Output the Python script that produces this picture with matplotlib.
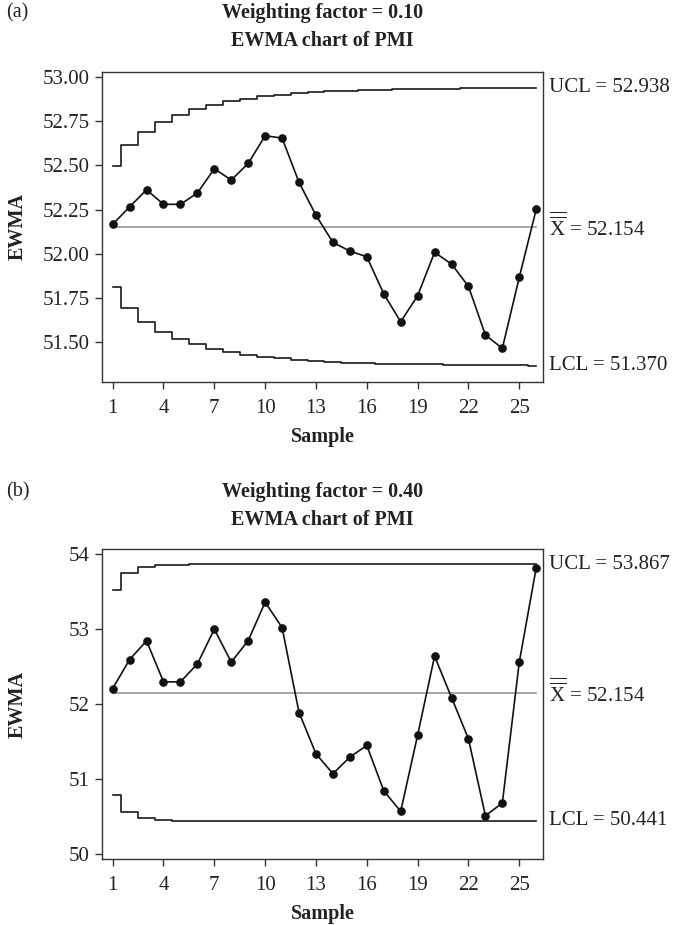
import matplotlib
matplotlib.use("Agg")
import matplotlib.pyplot as plt
import numpy as np

plt.rcParams['font.family'] = ['Liberation Serif', 'DejaVu Serif']
plt.rcParams['mathtext.fontset'] = 'custom'
plt.rcParams['mathtext.rm'] = 'Liberation Serif'
plt.rcParams['mathtext.it'] = 'Liberation Serif:italic'
plt.rcParams['mathtext.bf'] = 'Liberation Serif:bold'

samples = list(range(1, 27))
xticks = [1, 4, 7, 10, 13, 16, 19, 22, 25]

# Panel (a): weighting factor 0.10
ewma_a = [52.167, 52.266, 52.362, 52.280, 52.280, 52.344, 52.481, 52.417, 52.511, 52.667,
          52.654, 52.404, 52.218, 52.065, 52.016, 51.984, 51.775, 51.617, 51.764, 52.009,
          51.943, 51.817, 51.542, 51.467, 51.868, 52.252]
ucl_a = [52.496, 52.614, 52.691, 52.746, 52.787, 52.818, 52.843, 52.862, 52.877, 52.889,
         52.898, 52.906, 52.912, 52.917, 52.921, 52.924, 52.927, 52.929, 52.931, 52.932,
         52.933, 52.934, 52.936, 52.937, 52.937, 52.938]
lcl_a = [51.812, 51.694, 51.617, 51.562, 51.521, 51.490, 51.466, 51.446, 51.431, 51.419,
         51.410, 51.402, 51.396, 51.391, 51.387, 51.384, 51.381, 51.379, 51.377, 51.376,
         51.375, 51.374, 51.372, 51.371, 51.371, 51.370]
center_a = 52.154
yticks_a = [51.50, 51.75, 52.00, 52.25, 52.50, 52.75, 53.00]

# Panel (b): weighting factor 0.40
ewma_b = [52.208, 52.595, 52.844, 52.297, 52.297, 52.537, 53.000, 52.560, 52.848, 53.360,
          53.021, 51.888, 51.337, 51.071, 51.293, 51.448, 50.844, 50.568, 51.587, 52.640,
          52.088, 51.537, 50.510, 50.680, 52.560, 53.820]
ucl_b = [53.524, 53.752, 53.827, 53.853, 53.862, 53.865, 53.866] + [53.867] * 19
lcl_b = [50.784, 50.556, 50.481, 50.455, 50.446, 50.443, 50.442] + [50.441] * 19
center_b = 52.154
yticks_b = [50, 51, 52, 53, 54]

fig = plt.figure(figsize=(6.76, 9.25), dpi=100)
W, H = 676, 925


def make_axes(top_px, bottom_px):
    left_px, right_px = 102, 543
    return fig.add_axes([left_px / W, 1 - bottom_px / H,
                         (right_px - left_px) / W, (bottom_px - top_px) / H])


def draw_panel(ax, ewma, ucl, lcl, center, yticks, ylim, fmt, ucl_txt, lcl_txt,
               tag, wtxt, title_top_px):
    ax.step(samples, ucl, where='mid', color='#1a1a1a', lw=1.2)
    ax.step(samples, lcl, where='mid', color='#1a1a1a', lw=1.2)
    ax.plot([samples[0], samples[-1]], [center, center], color='#8c8c8c', lw=1.1)
    ax.plot(samples, ewma, color='#111111', lw=1.2, marker='o', ms=5.2,
            markerfacecolor='#111111', markeredgecolor='#111111')
    ax.set_xlim(0.37, 26.4)
    ax.set_ylim(*ylim)
    ax.set_xticks(xticks)
    ax.set_yticks(yticks)
    ax.set_yticklabels([fmt.format(v) for v in yticks])
    for s in ax.spines.values():
        s.set_color('#333333')
        s.set_linewidth(1.0)
    ax.tick_params(direction='out', length=5, width=1.0, color='#333333',
                   labelsize=15, pad=4, labelcolor='#222222')
    ax.tick_params(axis='x', pad=7)
    ax.set_xlabel('Sample', fontsize=14.5, fontweight='bold', labelpad=7, color='#222222')
    ax.set_ylabel('EWMA', fontsize=14.5, fontweight='bold', color='#222222')
    ax.yaxis.set_label_coords(-0.168, 0.5)
    # right labels
    ax.text(1.014, ucl[-1], ucl_txt, transform=ax.get_yaxis_transform(),
            fontsize=15, va='center', ha='left', color='#222222')
    ax.text(1.014, lcl[-1], lcl_txt, transform=ax.get_yaxis_transform(),
            fontsize=15, va='center', ha='left', color='#222222')
    ax.text(1.014, center, r'$\overline{\overline{\mathrm{X}}}$' + ' = 52.154',
            transform=ax.get_yaxis_transform(), fontsize=15, va='center', ha='left',
            color='#222222')
    # titles
    cx = (102 + 543) / 2 / W
    fig.text(cx, 1 - title_top_px / H, wtxt, ha='center', va='center',
             fontsize=14.5, fontweight='bold', color='#222222')
    fig.text(cx, 1 - (title_top_px + 28) / H, 'EWMA chart of PMI', ha='center',
             va='center', fontsize=14.5, fontweight='bold', color='#222222')
    fig.text(6 / W, 1 - title_top_px / H, tag, ha='left', va='center',
             fontsize=14.5, color='#222222')


ax1 = make_axes(72, 382)
draw_panel(ax1, ewma_a, ucl_a, lcl_a, center_a, yticks_a, (51.277, 53.027), '{:.2f}',
           'UCL = 52.938', 'LCL = 51.370', '(a)', 'Weighting factor = 0.10', 13)

ax2 = make_axes(549, 859)
draw_panel(ax2, ewma_b, ucl_b, lcl_b, center_b, yticks_b, (49.933, 54.07), '{:d}',
           'UCL = 53.867', 'LCL = 50.441', '(b)', 'Weighting factor = 0.40', 492)

fig.savefig('out.png', dpi=100)
